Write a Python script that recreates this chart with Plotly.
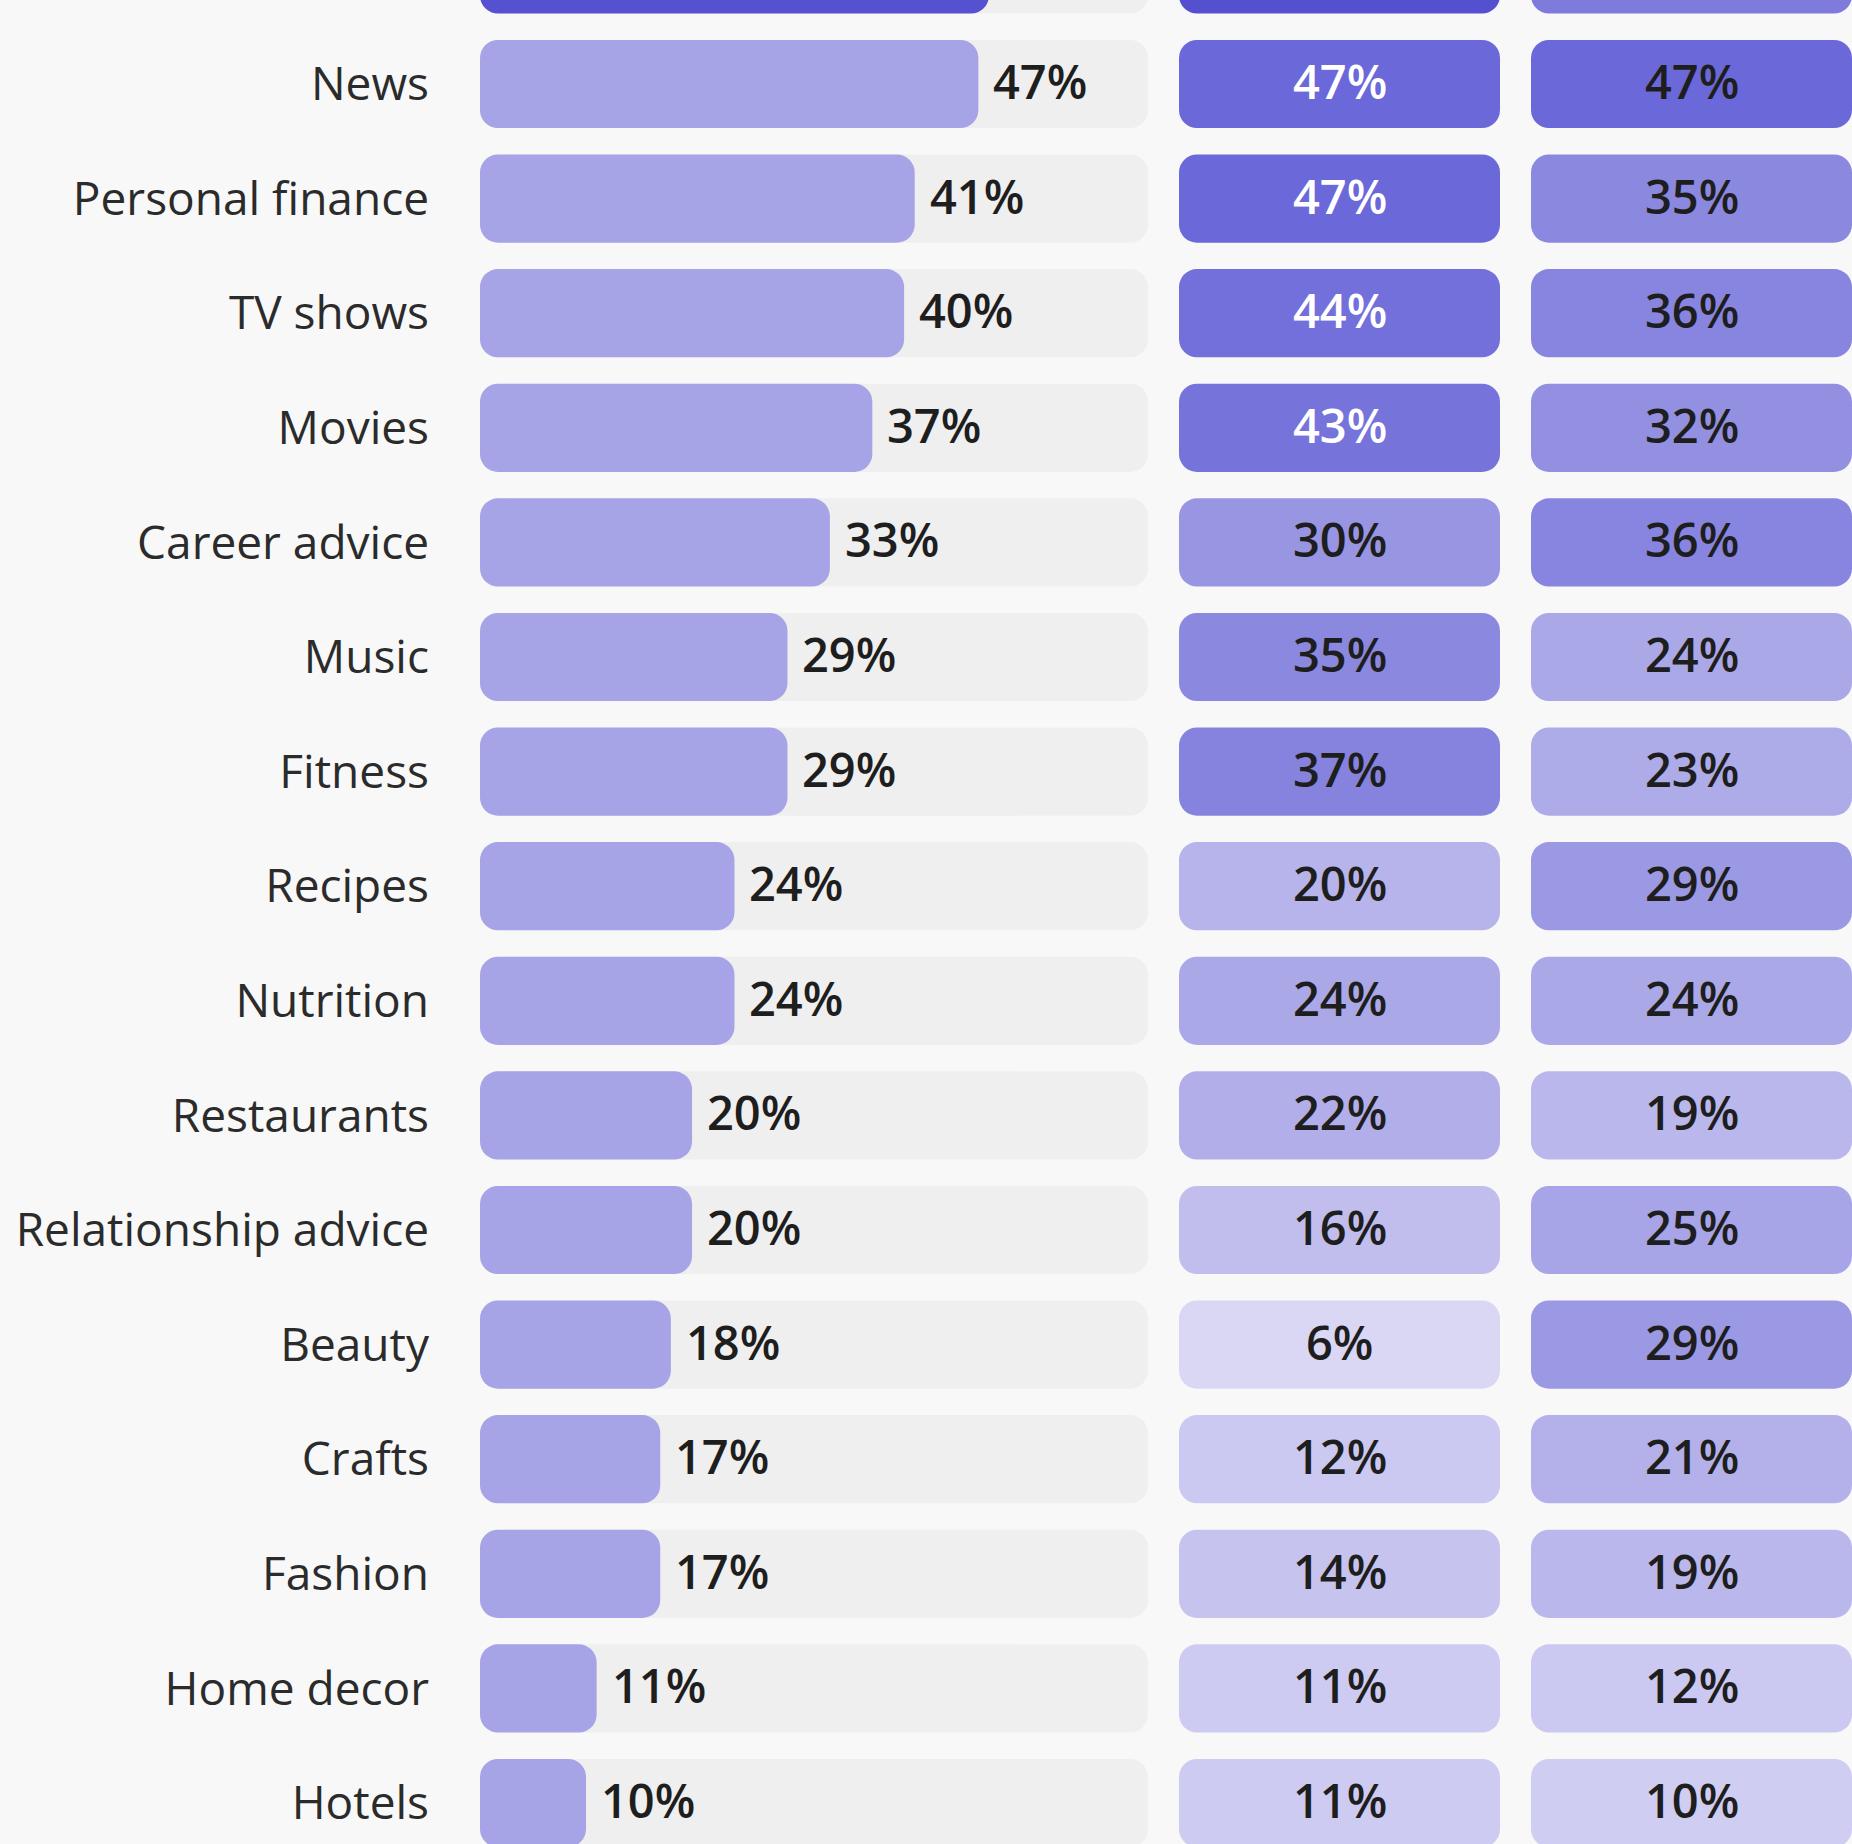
import plotly.graph_objects as go

# ---------------- data ----------------
categories = ["(row above)", "News", "Personal finance", "TV shows", "Movies",
              "Career advice", "Music", "Fitness", "Recipes", "Nutrition",
              "Restaurants", "Relationship advice", "Beauty", "Crafts",
              "Fashion", "Home decor", "Hotels"]
overall = [48, 47, 41, 40, 37, 33, 29, 29, 24, 24, 20, 20, 18, 17, 17, 11, 10]
group2 = [56, 47, 47, 44, 43, 30, 35, 37, 20, 24, 22, 16, 6, 12, 14, 11, 11]
group3 = [40, 47, 35, 36, 32, 36, 24, 23, 29, 24, 19, 25, 29, 21, 19, 12, 10]
track_max = 63  # full length of the grey track, in %

# ---------------- styles ----------------
BG = "#F8F8F8"
TRACK = "#EFEFEF"
BAR = "#A6A4E7"
BAR_HI = "#5551D1"
FONT = "Open Sans"
RADIUS = 18
BW = 0.77
cell_scale = [[0.0, "#DCDAF6"], [0.273, "#B7B4EB"], [0.436, "#9B98E4"],
              [0.764, "#6B68D9"], [1.0, "#4A46CC"]]
CMIN, CMAX = 5, 60

n = len(categories)
bar_colors = [BAR_HI] + [BAR] * (n - 1)

fig = go.Figure()


def rounded(xs, axis, marker_color, **mk):
    # an explicit base makes plotly round both ends of the bar
    fig.add_trace(go.Bar(
        y=categories, x=xs, base=[0] * len(xs),
        orientation="h", width=BW, xaxis=axis, yaxis="y",
        marker=dict(color=marker_color, cornerradius=RADIUS,
                    line=dict(width=0), **mk),
        hoverinfo="skip", showlegend=False))


# grey tracks
rounded([track_max] * n, "x", TRACK)
# main bars
rounded(overall, "x", bar_colors)
# heat cells
rounded([1] * n, "x2", group2, colorscale=cell_scale, cmin=CMIN, cmax=CMAX)
rounded([1] * n, "x3", group3, colorscale=cell_scale, cmin=CMIN, cmax=CMAX)

annotations = []
# value labels next to main bars
for c, v in zip(categories[1:], overall[1:]):
    annotations.append(dict(
        x=v, y=c, xref="x", yref="y", text=f"{v}%", showarrow=False,
        xanchor="left", yanchor="middle", xshift=13, yshift=3,
        font=dict(family=FONT, size=47, weight=600, color="#1E1E1E")))

# cell labels
for axis, vals, thr in (("x2", group2, 40), ("x3", group3, 100)):
    for c, v in zip(categories[1:], vals[1:]):
        annotations.append(dict(
            x=0.5, y=c, xref=axis, yref="y", text=f"{v}%", showarrow=False,
            xanchor="center", yanchor="middle", yshift=3,
            font=dict(family=FONT, size=47, weight=600,
                      color="#FFFFFF" if v >= thr else "#1E1E1E")))

W, H = 1852, 1844
pitch = 114.6
first_center = 84 - pitch
fig.update_layout(
    width=W, height=H,
    margin=dict(l=0, r=0, t=0, b=0),
    paper_bgcolor=BG, plot_bgcolor=BG,
    barmode="overlay",
    showlegend=False,
    annotations=annotations,
    xaxis=dict(domain=[480 / W, 1148 / W], range=[0, track_max],
               visible=False, fixedrange=True),
    xaxis2=dict(domain=[1179 / W, 1500 / W], range=[0, 1], anchor="y",
                visible=False, fixedrange=True),
    xaxis3=dict(domain=[1531 / W, 1.0], range=[0, 1], anchor="y",
                visible=False, fixedrange=True),
    yaxis=dict(type="category", categoryorder="array", categoryarray=categories,
               range=[(H - first_center) / pitch, (0 - first_center) / pitch],
               autorange=False, showgrid=False, zeroline=False, showline=False,
               ticks="", ticklabelstandoff=50,
               tickfont=dict(family=FONT, size=46, color="#2B2B2B"),
               fixedrange=True),
)

fig.write_html("out.html",
               config={"displayModeBar": False},
               post_script="document.body.style.margin='0px';document.body.style.background='#F8F8F8';")
